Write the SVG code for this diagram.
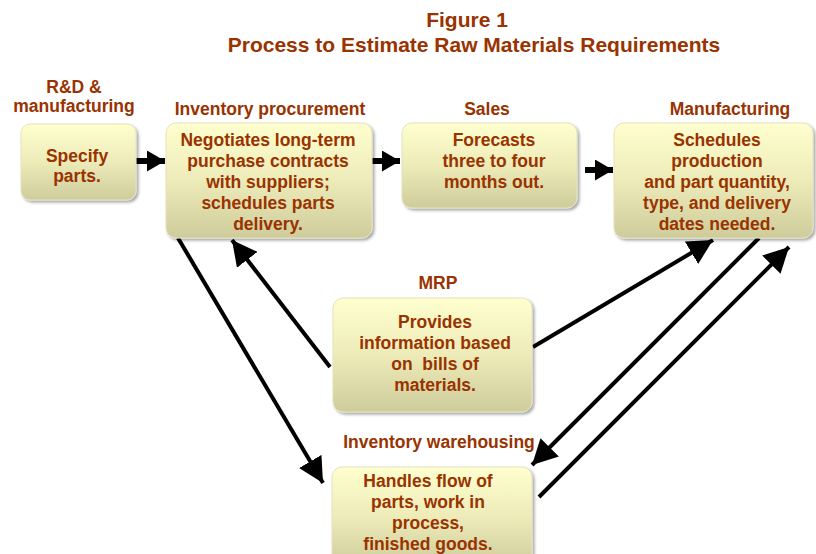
<svg xmlns="http://www.w3.org/2000/svg" width="816" height="554" viewBox="0 0 816 554">
  <defs>
    <linearGradient id="boxFill" x1="0" y1="0" x2="0" y2="1">
      <stop offset="0" stop-color="#FFFFCF"/>
      <stop offset="0.5" stop-color="#EDEBB8"/>
      <stop offset="1" stop-color="#CFCC9C"/>
    </linearGradient>
    <filter id="shadow" x="-10%" y="-10%" width="125%" height="130%">
      <feGaussianBlur in="SourceAlpha" stdDeviation="1.5"/>
      <feOffset dx="1.5" dy="2" result="b"/>
      <feComponentTransfer><feFuncA type="linear" slope="0.35"/></feComponentTransfer>
      <feMerge><feMergeNode/><feMergeNode in="SourceGraphic"/></feMerge>
    </filter>
    <marker id="head" viewBox="0 0 25 26" refX="25" refY="13" markerWidth="25" markerHeight="26" markerUnits="userSpaceOnUse" orient="auto">
      <path d="M0,0 L25,13 L0,26 Z" fill="#000"/>
    </marker>
    <marker id="headS" viewBox="0 0 18 21" refX="18" refY="10.5" markerWidth="18" markerHeight="21" markerUnits="userSpaceOnUse" orient="auto">
      <path d="M0,0 L18,10.5 L0,21 Z" fill="#000"/>
    </marker>
  </defs>
  <style>
    text { font-family: "Liberation Sans", Arial, sans-serif; font-weight: bold; fill: #993300; }
    .title { font-size: 21px; text-anchor: middle; }
    .lbl { font-size: 17.5px; text-anchor: middle; }
    .body { font-size: 17.5px; text-anchor: middle; }
    .box { fill: url(#boxFill); stroke: #E4E2C0; stroke-width: 1; filter: url(#shadow); }
    .conn { stroke: #000; stroke-width: 4; fill: none; marker-end: url(#head); }
    .flow { stroke: #000; stroke-width: 6; fill: none; marker-end: url(#headS); }
  </style>

  <g id="title">
    <text class="title" x="467" y="27">Figure 1</text>
    <text class="title" x="474" y="52">Process to Estimate Raw Materials Requirements</text>
  </g>

  <g id="connectors">
    <line class="flow" x1="136" y1="161" x2="165" y2="161"/>
    <line class="flow" x1="372" y1="161" x2="400" y2="161"/>
    <line class="flow" x1="585" y1="170" x2="613" y2="170"/>
    <line class="conn" x1="178" y1="238" x2="323" y2="483"/>
    <line class="conn" x1="330" y1="367" x2="232" y2="240"/>
    <line class="conn" x1="533" y1="347" x2="713" y2="240"/>
    <line class="conn" x1="759" y1="238" x2="532" y2="465"/>
    <line class="conn" x1="539" y1="497" x2="789" y2="247"/>
  </g>

  <g id="rd">
    <text class="lbl" x="74" y="93">R&amp;D &amp;</text>
    <text class="lbl" x="74" y="112">manufacturing</text>
    <rect class="box" x="21" y="124" width="115" height="76" rx="9"/>
    <text class="body" x="77" y="162">Specify</text>
    <text class="body" x="77" y="182">parts.</text>
  </g>

  <g id="procurement">
    <text class="lbl" x="270" y="115">Inventory procurement</text>
    <rect class="box" x="166" y="123" width="206" height="115" rx="10"/>
    <text class="body" x="268" y="146">Negotiates long-term</text>
    <text class="body" x="268" y="167">purchase contracts</text>
    <text class="body" x="268" y="188">with suppliers;</text>
    <text class="body" x="268" y="209">schedules parts</text>
    <text class="body" x="268" y="230">delivery.</text>
  </g>

  <g id="sales">
    <text class="lbl" x="487" y="115">Sales</text>
    <rect class="box" x="402" y="123" width="175" height="85" rx="10"/>
    <text class="body" x="494" y="146">Forecasts</text>
    <text class="body" x="494" y="167">three to four</text>
    <text class="body" x="494" y="188">months out.</text>
  </g>

  <g id="manufacturing">
    <text class="lbl" x="730" y="115">Manufacturing</text>
    <rect class="box" x="614" y="123" width="199" height="115" rx="10"/>
    <text class="body" x="717" y="146">Schedules</text>
    <text class="body" x="717" y="167">production</text>
    <text class="body" x="717" y="188">and part quantity,</text>
    <text class="body" x="717" y="209">type, and delivery</text>
    <text class="body" x="717" y="230">dates needed.</text>
  </g>

  <g id="mrp">
    <text class="lbl" x="438" y="289">MRP</text>
    <rect class="box" x="333" y="298" width="199" height="114" rx="10"/>
    <text class="body" x="435" y="328">Provides</text>
    <text class="body" x="435" y="349">information based</text>
    <text class="body" x="435" y="370">on&#160; bills of</text>
    <text class="body" x="435" y="391">materials.</text>
  </g>

  <g id="warehousing">
    <text class="lbl" x="439" y="448">Inventory warehousing</text>
    <rect class="box" x="332" y="467" width="200" height="100" rx="10"/>
    <text class="body" x="428" y="487">Handles flow of</text>
    <text class="body" x="428" y="508">parts, work in</text>
    <text class="body" x="428" y="529">process,</text>
    <text class="body" x="428" y="550">finished goods.</text>
  </g>
</svg>
